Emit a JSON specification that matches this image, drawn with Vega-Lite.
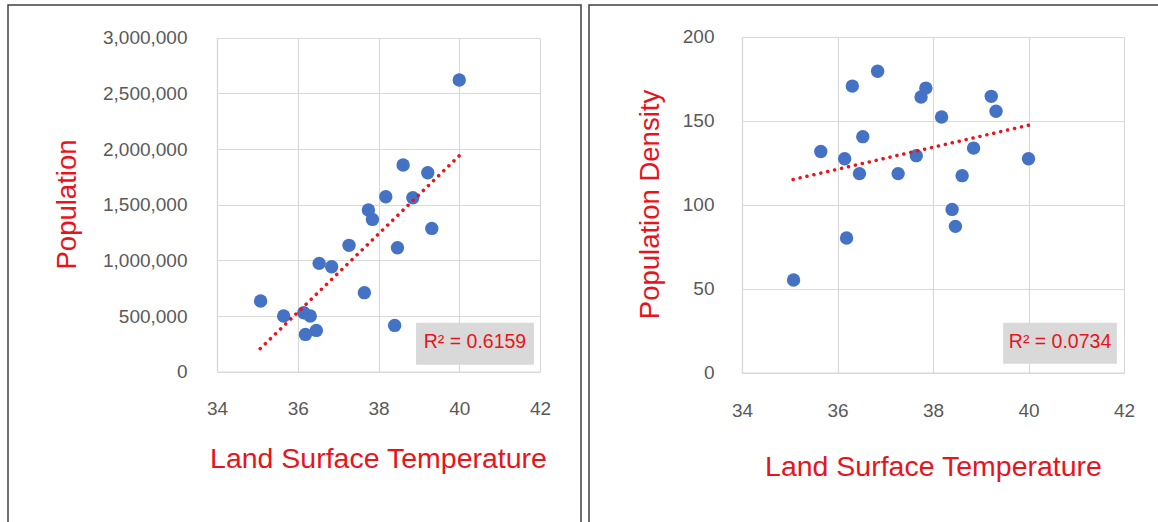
{
  "$schema": "https://vega.github.io/schema/vega-lite/v6.json",
  "padding": {"left": 7, "top": 4, "right": 0, "bottom": 0},
  "autosize": {"type": "pad"},
  "background": "white",
  "spacing": 8,
  "bounds": "flush",
  "config": {
    "font": "Liberation Sans",
    "view": {"stroke": "#404040", "strokeWidth": 1.5},
    "axis": {
      "ticks": false,
      "tickSize": 0,
      "labelFlush": false,
      "gridColor": "#d9d9d9",
      "gridWidth": 1.2,
      "domainColor": "#d9d9d9",
      "domainWidth": 1.2,
      "labelFont": "Liberation Sans",
      "labelFontSize": 19,
      "labelColor": "#595959",
      "titleFont": "Liberation Sans",
      "titleFontSize": 27.5,
      "titleFontWeight": "normal",
      "titleColor": "#e8141b",
      "titleBaseline": "alphabetic"
    }
  },
  "datasets": {
    "cities": [
      {"LST": 40.0, "Population": 2620000, "Density": 127.4},
      {"LST": 38.61, "Population": 1856000, "Density": 117.3},
      {"LST": 39.22, "Population": 1787000, "Density": 164.5},
      {"LST": 38.18, "Population": 1572000, "Density": 152.2},
      {"LST": 38.85, "Population": 1563000, "Density": 133.7},
      {"LST": 37.75, "Population": 1452000, "Density": 164.1},
      {"LST": 37.85, "Population": 1368000, "Density": 169.4},
      {"LST": 39.32, "Population": 1287000, "Density": 155.6},
      {"LST": 37.27, "Population": 1135000, "Density": 118.5},
      {"LST": 38.47, "Population": 1114000, "Density": 87.1},
      {"LST": 36.53, "Population": 973000, "Density": 140.5},
      {"LST": 36.84, "Population": 943000, "Density": 179.4},
      {"LST": 37.65, "Population": 710000, "Density": 129.2},
      {"LST": 35.08, "Population": 635000, "Density": 55.2},
      {"LST": 35.65, "Population": 500000, "Density": 131.7},
      {"LST": 36.15, "Population": 530000, "Density": 127.4},
      {"LST": 36.31, "Population": 500000, "Density": 170.6},
      {"LST": 38.4, "Population": 416000, "Density": 97.2},
      {"LST": 36.19, "Population": 335000, "Density": 80.2},
      {"LST": 36.46, "Population": 371000, "Density": 118.5}
    ],
    "trend": [
      {"LST": 35.07, "Population": 207000, "Density": 115.0},
      {"LST": 40.0, "Population": 1940000, "Density": 147.3}
    ]
  },
  "hconcat": [
    {
      "width": 573,
      "height": 517,
      "view": {"stroke": "#404040", "strokeWidth": 1.5, "strokeDash": [1090, 573, 517]},
      "resolve": {"axis": {"x": "independent"}},
      "layer": [
        {
          "data": {"values": [{"label": "R² = 0.6159"}]},
          "mark": {"type": "rect", "color": "#d9d9d9"},
          "encoding": {
            "x": {"datum": 38.93, "type": "quantitative", "axis": null},
            "x2": {"datum": 41.85},
            "y": {"datum": 63000, "type": "quantitative"},
            "y2": {"datum": 440000}
          }
        },
        {
          "data": {"values": [{"label": "R² = 0.6159"}]},
          "mark": {"type": "text", "color": "#e8141b", "fontSize": 19.5, "font": "Liberation Sans", "baseline": "middle", "align": "center"},
          "encoding": {
            "x": {"datum": 40.39, "type": "quantitative", "axis": null},
            "y": {"datum": 263000, "type": "quantitative"},
            "text": {"field": "label"}
          }
        },
        {
          "data": {"name": "cities"},
          "mark": {"type": "circle", "size": 180, "opacity": 1, "color": "#4472c4"},
          "encoding": {
            "x": {
              "field": "LST", "type": "quantitative",
              "scale": {"domain": [34, 42], "range": [209, 532], "nice": false, "zero": false},
              "axis": {
                "orient": "bottom", "offset": -150.3, "labelPadding": 28, "grid": false,
                "values": [34, 36, 38, 40, 42], "format": "d",
                "title": "Land Surface Temperature", "titleFontSize": 28.5, "titleX": 370, "titleY": 96
              }
            },
            "y": {
              "field": "Population", "type": "quantitative",
              "scale": {"domain": [0, 3000000], "range": [366.7, 32.7], "nice": false, "zero": false},
              "axis": {
                "orient": "left", "offset": -209, "labelPadding": 30, "format": ",d", "grid": true,
                "values": [0, 500000, 1000000, 1500000, 2000000, 2500000, 3000000],
                "title": "Population", "titleX": -142, "titleY": 199
              }
            }
          }
        },
        {
          "data": {"name": "trend"},
          "mark": {"type": "line", "color": "#e8141b", "strokeWidth": 3.5, "strokeCap": "round", "strokeDash": [0.1, 7]},
          "encoding": {
            "x": {
              "field": "LST", "type": "quantitative",
              "axis": {"orient": "top", "offset": 0, "grid": true, "labels": false, "domain": false, "ticks": false, "title": null, "values": [34, 36, 38, 40, 42]}
            },
            "y": {"field": "Population", "type": "quantitative"}
          }
        }
      ]
    },
    {
      "width": 569,
      "height": 517,
      "view": {"stroke": "#404040", "strokeWidth": 1.5, "strokeDash": [569, 1086, 517]},
      "resolve": {"axis": {"x": "independent"}},
      "layer": [
        {
          "data": {"values": [{"label": "R² = 0.0734"}]},
          "mark": {"type": "rect", "color": "#d9d9d9"},
          "encoding": {
            "x": {"datum": 39.47, "type": "quantitative", "axis": null},
            "x2": {"datum": 41.85},
            "y": {"datum": 5.4, "type": "quantitative"},
            "y2": {"datum": 29.8}
          }
        },
        {
          "data": {"values": [{"label": "R² = 0.0734"}]},
          "mark": {"type": "text", "color": "#e8141b", "fontSize": 19.5, "font": "Liberation Sans", "baseline": "middle", "align": "center"},
          "encoding": {
            "x": {"datum": 40.66, "type": "quantitative", "axis": null},
            "y": {"datum": 18.0, "type": "quantitative"},
            "text": {"field": "label"}
          }
        },
        {
          "data": {"name": "cities"},
          "mark": {"type": "circle", "size": 180, "opacity": 1, "color": "#4472c4"},
          "encoding": {
            "x": {
              "field": "LST", "type": "quantitative",
              "scale": {"domain": [34, 42], "range": [153, 535], "nice": false, "zero": false},
              "axis": {
                "orient": "bottom", "offset": -149.3, "labelPadding": 29, "grid": false,
                "values": [34, 36, 38, 40, 42], "format": "d",
                "title": "Land Surface Temperature", "titleFontSize": 28.5, "titleX": 344, "titleY": 103
              }
            },
            "y": {
              "field": "Density", "type": "quantitative",
              "scale": {"domain": [0, 200], "range": [367.7, 31.7], "nice": false, "zero": false},
              "axis": {
                "orient": "left", "offset": -153, "labelPadding": 28, "format": "d", "grid": true,
                "values": [0, 50, 100, 150, 200],
                "title": "Population Density", "titleX": -84, "titleY": 199
              }
            }
          }
        },
        {
          "data": {"name": "trend"},
          "mark": {"type": "line", "color": "#e8141b", "strokeWidth": 3.5, "strokeCap": "round", "strokeDash": [0.1, 7]},
          "encoding": {
            "x": {
              "field": "LST", "type": "quantitative",
              "axis": {"orient": "top", "offset": 0, "grid": true, "labels": false, "domain": false, "ticks": false, "title": null, "values": [34, 36, 38, 40, 42]}
            },
            "y": {"field": "Density", "type": "quantitative"}
          }
        }
      ]
    }
  ]
}
